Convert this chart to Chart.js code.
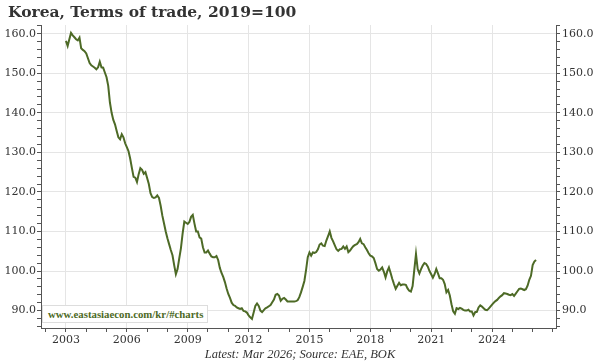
<!DOCTYPE html>
<html>
<head>
<meta charset="utf-8">
<script src="https://cdn.jsdelivr.net/npm/chart.js@4.4.1/dist/chart.umd.min.js"></script>
<style>
  html, body { margin: 0; padding: 0; background: #fff; }
  #wrap { position: relative; width: 600px; height: 364px; overflow: hidden; }
  #c { position: absolute; left: 0; top: 0; }
  #title { position: absolute; left: 8px; top: 2px; font: bold 15.5px "DejaVu Serif", serif; color: #333; white-space: nowrap; }
  #foot { position: absolute; left: 0; width: 600px; top: 347px; text-align: center; font: italic 12.5px "Liberation Serif", serif; color: #333; white-space: nowrap; }
  #mark { position: absolute; left: 42px; top: 305px; padding: 2px 4px 2px 5px; background: #fff; border: 1px solid #ddd; font: bold 10.8px "Liberation Serif", serif; color: #4d6a26; white-space: nowrap; }
</style>
</head>
<body>
<div id="wrap">
  <canvas id="c" width="600" height="364"></canvas>
  <div id="title">Korea, Terms of trade, 2019=100</div>
  <div id="mark">www.eastasiaecon.com/kr/#charts</div>
  <div id="foot">Latest: Mar 2026; Source: EAE, BOK</div>
</div>
<script>
// ---- data (monthly, Jan 2003 .. Mar 2026) ----
const startYear = 2003;
const tot2003_2008 = [
  158.2,156.9,158.6,160.2,159.6,159.1,158.6,158.3,159.0,156.3,155.9,155.6,
  155.0,153.8,152.6,152.0,151.7,151.4,151.0,151.5,152.9,151.5,151.4,150.2,
  149.0,146.8,142.6,140.0,138.2,137.1,135.4,133.8,133.3,134.6,133.8,132.3,
  131.3,130.3,128.4,126.0,123.8,123.6,122.5,124.5,126.0,125.6,124.6,125.0,
  123.5,122.0,119.7,118.7,118.5,118.6,119.1,118.5,116.5,114.0,112.0,110.0,
  108.3,106.8,105.3,104.0,101.5,99.2,100.5,103.2,105.8,109.5,112.5,112.2
];
const tot2009_2014 = [
  111.9,112.4,113.7,114.2,112.0,110.0,110.0,108.5,108.2,106.0,104.7,104.7,
  105.2,104.4,103.7,103.5,103.5,103.8,102.8,100.8,99.5,98.5,97.2,95.6,
  94.2,93.2,92.0,91.4,91.2,90.8,90.6,90.4,90.6,89.9,89.8,89.5,
  88.8,88.3,87.9,89.5,91.2,91.8,91.2,90.0,89.6,90.1,90.6,90.8,
  91.1,91.4,92.1,92.8,94.0,94.2,93.8,92.5,93.0,93.2,92.8,92.3,
  92.3,92.3,92.3,92.3,92.4,92.6,93.4,94.6,96.0,97.5,100.3,103.5
];
const tot2015_2020 = [
  104.7,103.9,104.7,104.6,104.8,105.5,106.7,107.0,106.4,106.3,107.7,108.8,
  110.0,108.4,107.5,106.5,105.5,105.1,105.5,105.6,106.2,105.6,106.2,104.8,
  105.2,105.8,106.3,106.6,106.8,107.3,108.1,107.0,106.8,106.0,105.3,104.5,
  103.9,103.7,103.3,102.0,100.5,100.1,100.4,100.9,99.8,98.4,99.9,100.9,
  99.5,98.0,96.7,95.5,96.3,97.0,96.4,96.6,96.6,96.5,95.6,95.0,
  94.8,96.2,100.3,104.3,100.5,99.4,100.5,101.4,102.0,101.8,101.1,100.0
];
const tot2021_2026 = [
  99.2,98.3,99.2,100.5,99.4,98.2,98.2,97.8,96.7,94.6,95.2,93.8,
  91.6,89.8,89.2,90.6,90.4,90.7,90.5,90.2,90.0,90.0,90.2,89.8,
  89.8,88.8,89.6,89.7,90.8,91.3,91.0,90.6,90.2,90.1,90.5,91.0,
  91.5,92.0,92.4,92.7,93.2,93.6,93.9,94.4,94.3,94.2,94.0,93.9,
  94.2,93.7,94.3,94.9,95.5,95.6,95.4,95.2,95.4,96.3,97.8,98.8,
  101.5,102.4,102.8
];
const xLabelYears = [2003, 2006, 2009, 2012, 2015, 2018, 2021, 2024];
const xTickYears = [2002,2003,2004,2005,2006,2007,2008,2009,2010,2011,2012,2013,2014,
                    2015,2016,2017,2018,2019,2020,2021,2022,2023,2024,2025,2026,2027];
const yLabelTicks = [90, 100, 110, 120, 130, 140, 150, 160];
const yMinorTicks = [86,88,90,92,94,96,98,100,102,104,106,108,110,112,114,116,118,120,
                     122,124,126,128,130,132,134,136,138,140,142,144,146,148,150,152,154,156,158,160,162];

// ---- build ----
const allValues = [].concat(tot2003_2008, tot2009_2014, tot2015_2020, tot2021_2026);
const points = allValues.map((v, i) => ({ x: startYear + i / 12, y: v }));

const FONT = { family: '"DejaVu Serif", serif', size: 11 };
const GRID = '#e5e5e5';
const AXIS = '#555';

function yAxis(pos) {
  return {
    type: 'linear',
    position: pos,
    min: 85.6,
    max: 162.2,
    afterBuildTicks: (ax) => { ax.ticks = yMinorTicks.map(v => ({ value: v })); },
    afterFit: (ax) => { ax.width = pos === 'left' ? 41 : 44; },
    ticks: {
      autoSkip: false,
      padding: pos === 'left' ? 1 : 2,
      color: '#333',
      font: FONT,
      callback: (v) => yLabelTicks.includes(v) ? v.toFixed(1) : ''
    },
    grid: {
      drawOnChartArea: pos === 'left',
      color: (ctx) => (ctx.tick && yLabelTicks.includes(ctx.tick.value)) ? GRID : 'rgba(0,0,0,0)',
      tickColor: AXIS,
      tickLength: 4,
      tickWidth: 1
    },
    border: { display: true, color: AXIS, width: 1 }
  };
}

new Chart(document.getElementById('c'), {
  type: 'line',
  data: {
    datasets: [{
      data: points,
      borderColor: '#4d6a26',
      borderWidth: 2,
      pointRadius: 0,
      tension: 0,
      fill: false
    }]
  },
  options: {
    responsive: false,
    devicePixelRatio: 1,
    animation: false,
    parsing: true,
    layout: { padding: { top: 25, left: 0, right: 0, bottom: 0 } },
    plugins: { legend: { display: false }, tooltip: { enabled: false }, title: { display: false } },
    scales: {
      x: {
        type: 'linear',
        min: 2001.77,
        max: 2027.15,
        afterBuildTicks: (ax) => { ax.ticks = xTickYears.map(v => ({ value: v })); },
        afterFit: (ax) => { ax.height = 36; },
        ticks: {
          autoSkip: false,
          maxRotation: 0,
          padding: 2,
          color: '#333',
          font: FONT,
          callback: (v) => xLabelYears.includes(v) ? String(v) : ''
        },
        grid: {
          color: (ctx) => (ctx.tick && xLabelYears.includes(ctx.tick.value)) ? GRID : 'rgba(0,0,0,0)',
          tickColor: AXIS,
          tickLength: 4,
          tickWidth: 1
        },
        border: { display: true, color: AXIS, width: 1 }
      },
      y: yAxis('left'),
      y2: yAxis('right')
    }
  }
});
</script>
</body>
</html>
